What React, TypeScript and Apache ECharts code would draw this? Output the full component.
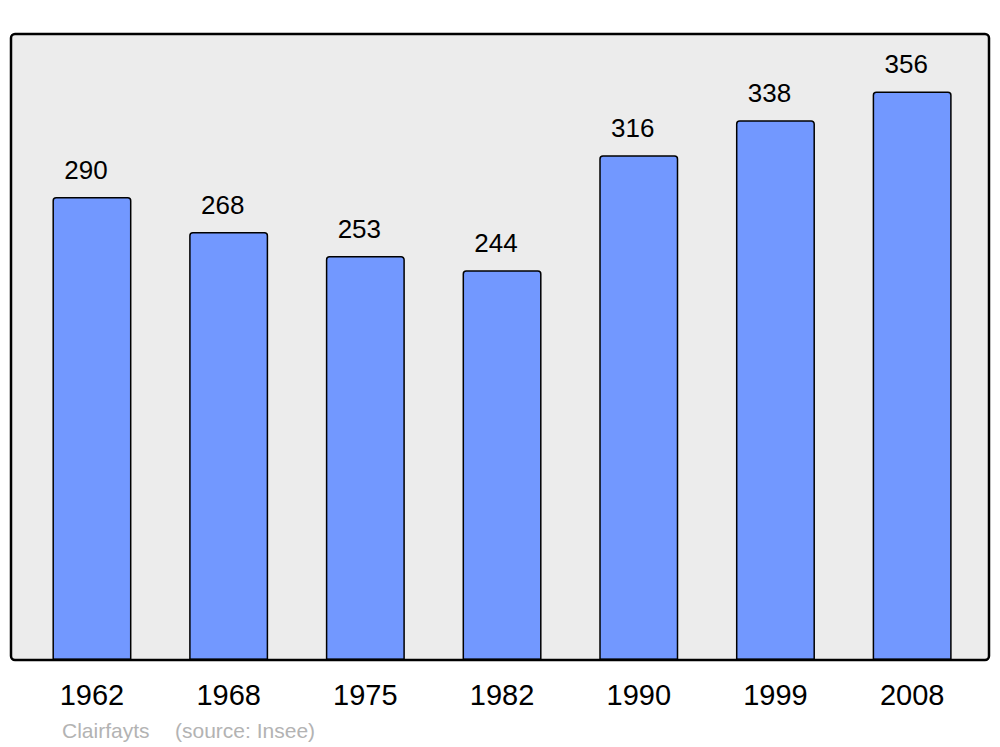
import React, { useEffect, useRef } from "react";
import * as echarts from "echarts";

const years = ["1962", "1968", "1975", "1982", "1990", "1999", "2008"];
const population = [290, 268, 253, 244, 316, 338, 356];
const commune = "Clairfayts";
const source = "(source: Insee)";

export default function App() {
  const ref = useRef<HTMLDivElement>(null);
  useEffect(() => {
    if (!ref.current) return;
    const chart = echarts.init(ref.current, null, { renderer: "svg" });
    chart.setOption({
      animation: false,
      grid: { left: 23.6, right: 19.5, top: 34, bottom: 87, containLabel: false },
      xAxis: {
        type: "category",
        data: years,
        axisLine: { show: false },
        axisTick: { show: false },
        axisLabel: {
          fontFamily: "Liberation Sans, Arial, sans-serif",
          fontSize: 29,
          color: "#000",
          margin: 20,
        },
      },
      yAxis: {
        type: "value",
        min: 0,
        max: 392,
        show: false,
        splitLine: { show: false },
      },
      graphic: [
        {
          type: "rect",
          z: -10,
          shape: { x: 11, y: 34, width: 978, height: 626, r: 4 },
          style: { fill: "#ececec", stroke: "none" },
        },
        {
          type: "rect",
          z: 100,
          shape: { x: 11, y: 34, width: 978, height: 626, r: 4 },
          style: { fill: "none", stroke: "#000", lineWidth: 2.5 },
        },
        {
          type: "text",
          x: 62,
          y: 730,
          style: {
            text: commune,
            fill: "#b3b3b3",
            fontSize: 21,
            fontFamily: "Liberation Sans, Arial, sans-serif",
            verticalAlign: "middle",
          },
        },
        {
          type: "text",
          x: 175,
          y: 730,
          style: {
            text: source,
            fill: "#b3b3b3",
            fontSize: 21,
            fontFamily: "Liberation Sans, Arial, sans-serif",
            verticalAlign: "middle",
          },
        },
      ],
      series: [
        {
          type: "bar",
          data: population,
          barWidth: 79,
          itemStyle: {
            color: "#7298ff",
            borderColor: "#000",
            borderWidth: 1.5,
            borderRadius: [3, 3, 0, 0],
          },
          label: {
            show: true,
            position: "top",
            distance: 14,
            offset: [-6, 0],
            fontFamily: "Liberation Sans, Arial, sans-serif",
            fontSize: 26,
            color: "#000",
          },
        },
      ],
    });
    return () => chart.dispose();
  }, []);
  return (
    <div
      ref={ref}
      style={{ position: "fixed", left: 0, top: 0, width: 1000, height: 747, background: "#fff" }}
    />
  );
}
